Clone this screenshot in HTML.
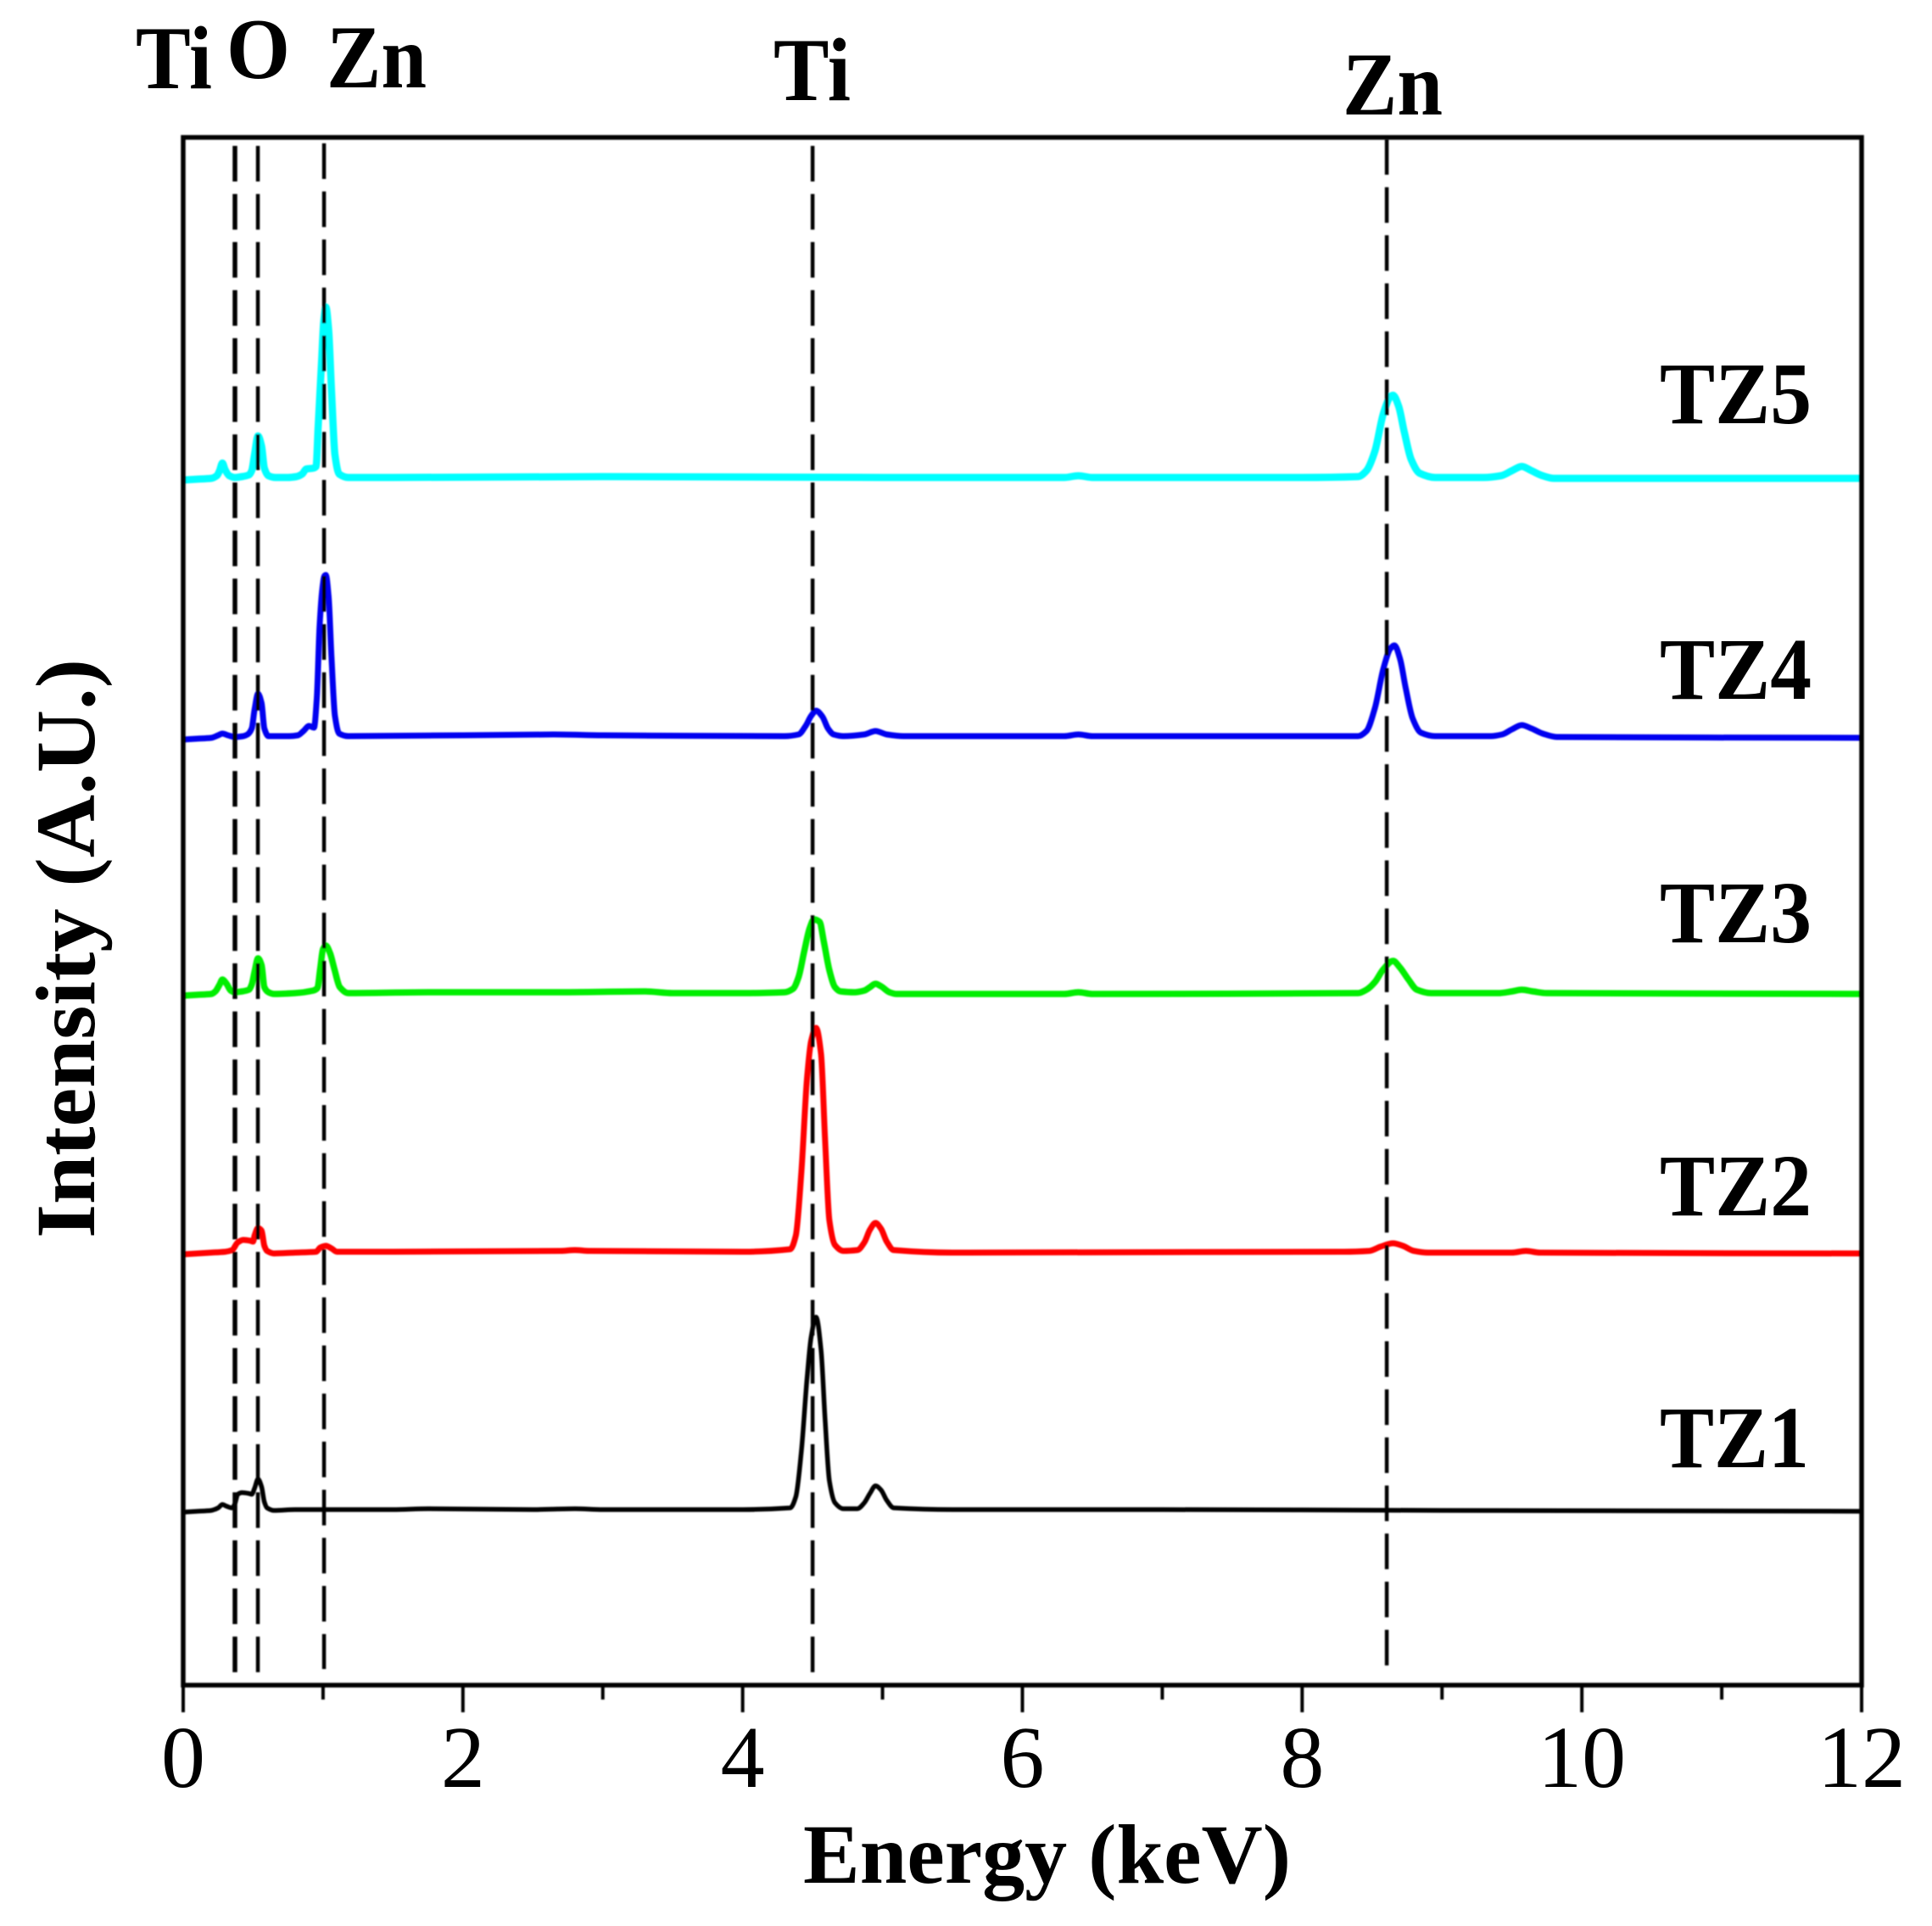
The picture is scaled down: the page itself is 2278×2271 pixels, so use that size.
<!DOCTYPE html>
<html lang="en">
<head>
<meta charset="utf-8">
<title>EDS spectra TZ1-TZ5</title>
<style>
  html, body { margin: 0; padding: 0; background: #fff; }
  svg { display: block; }
  text { font-family: "Liberation Serif", serif; fill: #000; }
  .bold { font-weight: bold; }
</style>
</head>
<body>
<svg id="chart" xmlns="http://www.w3.org/2000/svg" width="2278" height="2271" viewBox="0 0 2278 2271">
  <defs>
    <filter id="soft" filterUnits="userSpaceOnUse" x="0" y="0" width="2278" height="2271">
      <feGaussianBlur stdDeviation="0.7"/>
    </filter>
  </defs>
  <rect x="0" y="0" width="2278" height="2271" fill="#fff"/>
  <g id="marks" filter="url(#soft)"></g>
  <g id="frame" filter="url(#soft)">
    <rect x="216" y="162" width="1979" height="1825" fill="none" stroke="#000" stroke-width="5.5"/>
  </g>
  <g id="tick-labels"></g>

  <text class="bold" x="160" y="104" font-size="106" textLength="90" lengthAdjust="spacingAndGlyphs">Ti</text>
  <text class="bold" x="267" y="92" font-size="102" textLength="75" lengthAdjust="spacingAndGlyphs">O</text>
  <text class="bold" x="385" y="103" font-size="106" textLength="118" lengthAdjust="spacingAndGlyphs">Zn</text>
  <text class="bold" x="912" y="118" font-size="106" textLength="91" lengthAdjust="spacingAndGlyphs">Ti</text>
  <text class="bold" x="1583" y="135" font-size="106" textLength="118" lengthAdjust="spacingAndGlyphs">Zn</text>

  <text class="bold" x="1957" y="499" font-size="104" textLength="179" lengthAdjust="spacingAndGlyphs">TZ5</text>
  <text class="bold" x="1957" y="824" font-size="104" textLength="179" lengthAdjust="spacingAndGlyphs">TZ4</text>
  <text class="bold" x="1957" y="1111" font-size="104" textLength="179" lengthAdjust="spacingAndGlyphs">TZ3</text>
  <text class="bold" x="1957" y="1433" font-size="104" textLength="179" lengthAdjust="spacingAndGlyphs">TZ2</text>
  <text class="bold" x="1957" y="1730" font-size="104" textLength="176" lengthAdjust="spacingAndGlyphs">TZ1</text>

  <text class="bold" x="947" y="2220" font-size="100" textLength="575" lengthAdjust="spacingAndGlyphs">Energy (keV)</text>
  <text class="bold" transform="translate(111,1460) rotate(-90)" x="0" y="0" font-size="100" textLength="683" lengthAdjust="spacingAndGlyphs">Intensity (A.U.)</text>
</svg>
<script>
// X axis tick values (keV)
const majorTicks = [0, 2, 4, 6, 8, 10, 12];
const minorTicks = [1, 3, 5, 7, 9, 11];

// Characteristic peak energies marked with dashed lines (keV)
const markerTiL = 0.37;
const markerOK = 0.534;
const markerZnL = 1.007;
const markerTiK = 4.5;
const markerZnK = 8.605;

// Stacking offset of each spectrum (A.U.)
const offsetTZ1 = 206;
const offsetTZ2 = 510;
const offsetTZ3 = 815;
const offsetTZ4 = 1118;
const offsetTZ5 = 1423;

// Spectra: energy (keV) and intensity above baseline (A.U.)
const energyTZ1 = [0,0.1,0.2,0.25,0.28,0.31,0.35,0.37,0.39,0.42,0.47,0.49,0.51,0.535,0.56,0.58,0.6,0.65,0.8,1.0,1.5,1.75,2.5,2.8,3.0,4.0,4.34,4.38,4.42,4.46,4.49,4.525,4.56,4.59,4.62,4.66,4.72,4.82,4.87,4.91,4.95,4.99,5.03,5.08,5.5,7,9,12];
const intensityTZ1 = [-2,-1,0,3,7,5,3,8,19,21,20,19,26,37,28,10,3,0,1,1,1,2,1,2,1,1,3,16,70,155,205,228,190,105,35,9,2,2,9,20,29,24,12,3,1,1,0,-1];

const energyTZ2 = [0,0.1,0.2,0.3,0.35,0.39,0.43,0.48,0.5,0.51,0.535,0.56,0.58,0.6,0.65,0.8,0.95,0.98,1.02,1.06,1.1,1.5,2.7,2.8,2.9,4.0,4.34,4.38,4.42,4.46,4.49,4.525,4.56,4.59,4.62,4.66,4.72,4.82,4.87,4.91,4.95,4.99,5.03,5.08,5.5,8.3,8.48,8.56,8.65,8.72,8.8,8.9,9.5,9.6,9.7,12];
const intensityTZ2 = [-2,-1,0,1,3,12,15,14,13,20,29,26,8,2,-1,0,1,6,8,5,1,1,2,3,2,1,4,20,95,205,250,265,235,130,38,9,2,3,12,27,35,28,13,3,0,1,2,7,11,8,2,0,0,2,0,-1];

const energyTZ3 = [0,0.1,0.2,0.23,0.26,0.28,0.31,0.34,0.37,0.42,0.47,0.49,0.51,0.535,0.56,0.58,0.61,0.65,0.8,0.93,0.96,0.98,1.0,1.02,1.05,1.08,1.12,1.18,1.75,2.7,3.3,3.5,4.0,4.3,4.36,4.4,4.44,4.48,4.51,4.55,4.58,4.62,4.66,4.7,4.8,4.87,4.91,4.95,4.99,5.05,5.1,6.3,6.4,6.5,8.4,8.46,8.52,8.58,8.65,8.7,8.76,8.82,8.92,9.4,9.5,9.57,9.65,9.75,12];
const intensityTZ3 = [-2,-1,0,3,11,17,12,4,2,3,5,11,26,42,34,8,2,0,1,4,7,30,53,57,48,30,8,1,2,2,3,1,1,2,6,20,50,78,88,85,62,28,8,3,2,4,8,12,9,2,0,0,2,0,1,5,14,29,39,31,17,5,1,1,3,5,3,1,0];

const energyTZ4 = [0,0.1,0.2,0.25,0.28,0.32,0.37,0.43,0.46,0.49,0.51,0.535,0.56,0.58,0.61,0.65,0.76,0.82,0.86,0.9,0.935,0.955,0.975,0.995,1.01,1.02,1.04,1.06,1.085,1.115,1.18,2,2.65,3,4.3,4.4,4.45,4.49,4.525,4.57,4.61,4.65,4.72,4.87,4.95,5.03,5.15,6.3,6.4,6.5,8.4,8.46,8.52,8.58,8.63,8.66,8.7,8.74,8.79,8.85,8.95,9.35,9.43,9.5,9.57,9.64,9.72,9.82,12];
const intensityTZ4 = [-3,-2,-1,2,4,2,0,1,3,10,32,51,40,10,1,1,1,2,7,13,11,45,130,175,190,191,165,95,25,4,1,2,3,2,1,3,13,25,31,24,10,3,1,3,7,3,1,1,3,1,1,7,34,80,104,108,92,58,22,5,1,1,3,9,14,10,4,0,-1];

const energyTZ5 = [0,0.1,0.2,0.24,0.26,0.28,0.3,0.33,0.37,0.42,0.47,0.49,0.51,0.535,0.56,0.58,0.61,0.66,0.75,0.81,0.85,0.88,0.93,0.95,0.965,0.99,1.005,1.02,1.04,1.06,1.085,1.115,1.18,1.5,3,5,6.3,6.4,6.5,8,8.4,8.46,8.52,8.58,8.63,8.65,8.69,8.73,8.78,8.84,8.95,9.3,9.42,9.5,9.57,9.64,9.72,9.8,12];
const intensityTZ5 = [-2,-1,0,3,9,18,10,3,1,2,4,9,28,50,38,12,3,1,1,2,5,11,12,14,60,140,185,202,175,105,28,5,1,1,2,1,1,3,1,1,2,9,32,76,96,98,85,55,22,6,1,1,3,9,14,9,3,0,0];

// Axis functions: x is keV across the frame, y is A.U. from the bottom axis
function xScale(keV) { return 216 + keV * (2195 - 216) / 12; }
function yScale(au) { return 1987 - au; }

const NS = 'http://www.w3.org/2000/svg';
const marks = document.getElementById('marks');
const frame = document.getElementById('frame');
const tickLabels = document.getElementById('tick-labels');

// Monotone cubic path through the scaled points, so peaks stay rounded without overshoot
function smoothPath(xs, ys) {
  const n = xs.length;
  const slopes = [];
  for (let i = 0; i < n - 1; i++) {
    slopes.push((ys[i + 1] - ys[i]) / (xs[i + 1] - xs[i]));
  }
  const tangents = [slopes[0]];
  for (let i = 1; i < n - 1; i++) {
    const a = slopes[i - 1];
    const b = slopes[i];
    tangents.push(a * b <= 0 ? 0 : 2 * a * b / (a + b));
  }
  tangents.push(slopes[n - 2]);
  let d = 'M' + xs[0].toFixed(1) + ',' + ys[0].toFixed(1);
  for (let i = 0; i < n - 1; i++) {
    const h = (xs[i + 1] - xs[i]) / 3;
    d += 'C' + (xs[i] + h).toFixed(1) + ',' + (ys[i] + tangents[i] * h).toFixed(1) +
         ' ' + (xs[i + 1] - h).toFixed(1) + ',' + (ys[i + 1] - tangents[i + 1] * h).toFixed(1) +
         ' ' + xs[i + 1].toFixed(1) + ',' + ys[i + 1].toFixed(1);
  }
  return d;
}

function drawSpectrum(name, energy, intensity, offset, colour, width) {
  const el = document.createElementNS(NS, 'path');
  
  
  el.setAttribute('d', smoothPath(
    energy.map(function (e) { return xScale(e); }),
    intensity.map(function (v) { return yScale(offset + v); })
  ));
  el.setAttribute('fill', 'none');
  el.setAttribute('stroke', colour);
  el.setAttribute('stroke-width', width);
  el.setAttribute('stroke-linejoin', 'round');
  el.setAttribute('stroke-linecap', 'butt');
  marks.appendChild(el);
}

function drawMarker(name, keV, top, bottom, width) {
  const el = document.createElementNS(NS, 'line');
  
  
  el.setAttribute('x1', xScale(keV));
  el.setAttribute('x2', xScale(keV));
  el.setAttribute('y1', top);
  el.setAttribute('y2', bottom);
  el.setAttribute('stroke', '#000');
  el.setAttribute('stroke-width', width);
  el.setAttribute('stroke-dasharray', '42 14.7');
  marks.appendChild(el);
}

function drawTick(name, keV, bottom) {
  const el = document.createElementNS(NS, 'line');
  
  
  el.setAttribute('x1', xScale(keV));
  el.setAttribute('x2', xScale(keV));
  el.setAttribute('y1', 1987);
  el.setAttribute('y2', bottom);
  el.setAttribute('stroke', '#000');
  el.setAttribute('stroke-width', 4);
  frame.appendChild(el);
}

drawSpectrum('spectrum-tz1', energyTZ1, intensityTZ1, offsetTZ1, '#000000', 5.5);
drawSpectrum('spectrum-tz2', energyTZ2, intensityTZ2, offsetTZ2, '#ff0000', 7);
drawSpectrum('spectrum-tz3', energyTZ3, intensityTZ3, offsetTZ3, '#00ee00', 7.5);
drawSpectrum('spectrum-tz4', energyTZ4, intensityTZ4, offsetTZ4, '#0000f0', 7);
drawSpectrum('spectrum-tz5', energyTZ5, intensityTZ5, offsetTZ5, '#00ffff', 8.5);

drawMarker('marker-ti-l', markerTiL, 172, 1972, 5.5);
drawMarker('marker-o-k', markerOK, 172, 1972, 4.5);
drawMarker('marker-zn-l', markerZnL, 169, 1968, 4.5);
drawMarker('marker-ti-k', markerTiK, 172, 1972, 4.5);
drawMarker('marker-zn-k', markerZnK, 164, 1964, 4.5);

majorTicks.forEach(function (value) {
  drawTick('major-tick', value, 2019);
  const label = document.createElementNS(NS, 'text');
  
  
  label.setAttribute('x', xScale(value));
  label.setAttribute('y', 2107);
  label.setAttribute('font-size', 104);
  label.setAttribute('text-anchor', 'middle');
  label.textContent = value;
  tickLabels.appendChild(label);
});

minorTicks.forEach(function (value) {
  drawTick('minor-tick', value, 2004);
});
</script>
</body>
</html>
